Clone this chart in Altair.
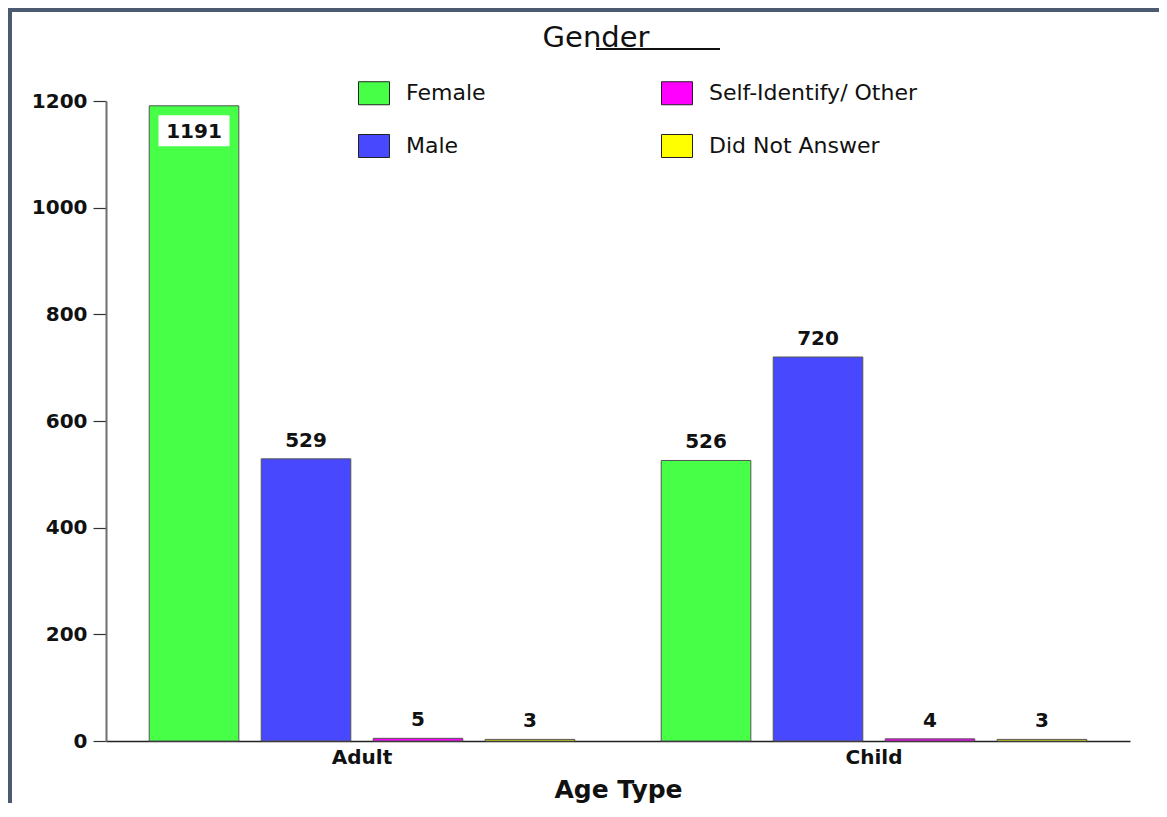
import altair as alt
import pandas as pd

# ---- data ----
age_types = ["Adult", "Child"]
genders = ["Female", "Male", "Self-Identify/ Other", "Did Not Answer"]
female = [1191, 526]
male = [529, 720]
other = [5, 4]
no_answer = [3, 3]
gender_colors = ["#48FF48", "#4848FF", "#FF00FF", "#FFFF00"]
y_ticks = [0, 200, 400, 600, 800, 1000, 1200]
chart_title = "Gender"
x_title = "Age Type"

rows = []
for series_name, vals in zip(genders, [female, male, other, no_answer]):
    for a, v in zip(age_types, vals):
        rows.append({"age": a, "gender": series_name, "count": v})
df = pd.DataFrame(rows)

FONT = "DejaVu Sans"

x_enc = alt.X("age:N", scale=alt.Scale(domain=age_types, paddingInner=0, paddingOuter=0),
              axis=alt.Axis(title=x_title, labelAngle=0, ticks=False, tickSize=0,
                            labelPadding=6, labelFont=FONT, labelFontSize=20,
                            labelFontWeight="bold", labelColor="#111",
                            titleFont=FONT, titleFontSize=25, titleFontWeight="bold",
                            titleColor="#111", titlePadding=10,
                            domainColor="#222", domainWidth=1.5))
xo_enc = alt.XOffset("gender:N", scale=alt.Scale(domain=genders, paddingInner=0.2, paddingOuter=0.386))
y_enc = alt.Y("count:Q", scale=alt.Scale(domain=[0, 1200], nice=False),
              axis=alt.Axis(title=None, values=y_ticks, format="d", grid=False, tickSize=13,
                            tickColor="#333", tickWidth=1.2, labelPadding=6,
                            labelFont=FONT, labelFontSize=20, labelFontWeight="bold",
                            labelColor="#111", domainColor="#6e6e6e", domainWidth=2))

base = alt.Chart(df)

bars = base.mark_bar(stroke="#555", strokeWidth=1).encode(
    x=x_enc, xOffset=xo_enc, y=y_enc,
    color=alt.Color("gender:N",
                    scale=alt.Scale(domain=genders, range=gender_colors),
                    legend=alt.Legend(title=None, orient="none", legendX=252, legendY=-24,
                                      columns=2, columnPadding=173, rowPadding=23,
                                      symbolType="M-1,-0.742H1V0.742H-1Z", symbolSize=961,
                                      symbolStrokeColor="#222", symbolStrokeWidth=1,
                                      symbolOpacity=1, labelFont=FONT, labelFontSize=22,
                                      labelColor="#111", labelOffset=16, labelLimit=400,
                                      padding=0)),
)

labels_top = base.transform_filter("datum.count <= 1100").mark_text(
    dy=-12, baseline="alphabetic", font=FONT, fontSize=20, fontWeight="bold", color="#111"
).encode(x=x_enc, xOffset=xo_enc, y=y_enc, text="count:Q")

box_in = base.transform_filter("datum.count > 1100").mark_point(
    shape="M-1,-0.437H1V0.437H-1Z", size=5041, filled=True, fill="white",
    opacity=1, strokeWidth=0, yOffset=25
).encode(x=x_enc, xOffset=xo_enc, y=y_enc)

labels_in = base.transform_filter("datum.count > 1100").mark_text(
    dy=32, baseline="alphabetic", font=FONT, fontSize=20, fontWeight="bold", color="#111"
).encode(x=x_enc, xOffset=xo_enc, y=y_enc, text="count:Q")

one = alt.Chart(pd.DataFrame({"t": [chart_title]}))
title_txt = one.mark_text(font=FONT, fontSize=29, align="center", baseline="alphabetic",
                          color="#111").encode(x=alt.value(490), y=alt.value(-54), text="t:N")
underline = one.mark_rule(color="#111", strokeWidth=2).encode(
    x=alt.value(490), x2=alt.value(614), y=alt.value(-52))

frame_top = one.mark_rule(color="#4b5a70", strokeWidth=4).encode(
    x=alt.value(-98), x2=alt.value(1053), y=alt.value(-91))
frame_left = one.mark_rule(color="#4b5a70", strokeWidth=4).encode(
    x=alt.value(-96), y=alt.value(-93), y2=alt.value(702))

chart = alt.layer(frame_top, frame_left, bars, box_in, labels_in, labels_top,
                  title_txt, underline).properties(
    width=1024, height=640,
    padding={"left": 98, "top": 93, "right": 29, "bottom": 62},
    autosize=alt.AutoSizeParams(type="none"),
    background="white",
).configure_view(stroke=None)

chart.save("out.html", embed_options={"renderer": "svg", "actions": False})
